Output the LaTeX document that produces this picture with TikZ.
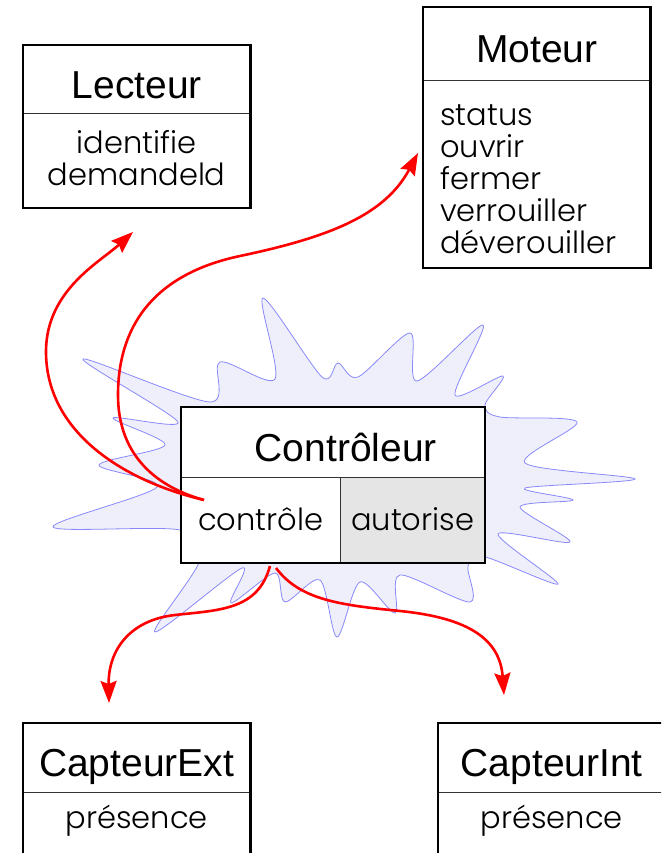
\documentclass[tikz,border=0pt]{standalone}
\usepackage{fontspec}
\setmainfont{Liberation Sans}
\newfontfamily\opsfont{Poppins}[UprightFont=* Light]
\usetikzlibrary{arrows.meta,positioning}
\definecolor{burstfill}{RGB}{239,239,252}
\definecolor{burstline}{RGB}{136,136,250}
\definecolor{cellgray}{RGB}{229,229,229}
\tikzset{head/.style = {rectangle, fill=white, inner sep=0pt, minimum width=227pt, text height=38pt, text depth=0pt, font=\fontsize{39}{39}\selectfont},
         ops/.style = {rectangle, fill=white, inner sep=0pt, align=center, font=\opsfont\fontsize{30.5}{32}\selectfont},
         frame/.style = {draw, line width=2.2pt},
         rule/.style = {draw=black!80, line width=1pt},
         link/.style = {draw=red, line width=2.6pt, -{Stealth[length=22pt, width=16pt, inset=3pt]}},
         burst/.style = {draw=burstline, fill=burstfill, line width=0.8pt},
}

\begin{document}
\begin{tikzpicture}[x=1pt, y=-1pt]
  \useasboundingbox (0,0) rectangle (661,853);
  \clip (0,0) rectangle (661,853);

  % spiky cloud behind the controller
  \draw[burst] plot[smooth cycle, tension=0.5] coordinates {
    (220,362) (275,379) (263,298) (322,377) (338,363) (358,377) (410,333)
    (417,381) (483,325) (455,395) (503,376) (485,405) (500,417) (577,422)
    (525,463) (635,479) (525,488) (573,500) (520,507) (570,542) (498,534)
    (558,584) (485,557) (468,566) (470,602) (400,575) (395,613) (360,582)
    (337,637) (320,580) (285,602) (275,573) (231,603) (242,568) (155,632)
    (200,560) (180,530) (53,527) (157,487) (99,465) (165,445) (113,418)
    (178,422) (83,359) (210,402)};

  % Lecteur
  \node[head, anchor=north west, minimum height=68pt] (lecteur) at (23,45) {Lecteur};
  \node[ops, below=0pt of lecteur, text width=227pt, text height=40pt, text depth=54pt] (lecteurOps) {identifie\\demandeld};
  \draw[rule] (lecteur.south west) -- (lecteur.south east);
  \draw[frame] (lecteur.north west) rectangle (lecteurOps.south east);

  % Moteur
  \node[head, anchor=north west, minimum height=73pt] (moteur) at (423,7) {Moteur};
  \node[ops, below=0pt of moteur, align=left, inner xsep=17pt, text width=193pt, text height=45pt, text depth=142pt] (moteurOps) {status\\ouvrir\\fermer\\verrouiller\\déverouiller};
  \draw[rule] (moteur.south west) -- (moteur.south east);
  \draw[frame] (moteur.north west) rectangle (moteurOps.south east);

  % Controleur
  \node[head, anchor=north west, minimum width=303pt, minimum height=70pt] (ctrl) at (181,407) {\hspace*{26pt}Contrôleur};
  \node[ops, anchor=north west, text width=159pt, text height=53pt, text depth=32pt] (ctrlUse) at (ctrl.south west) {contrôle};
  \node[ops, fill=cellgray, right=0pt of ctrlUse, text width=144pt, text height=53pt, text depth=32pt] (ctrlAuth) {autorise};
  \draw[rule] (ctrl.south west) -- (ctrl.south east);
  \draw[rule] (ctrlAuth.north west) -- (ctrlAuth.south west);
  \draw[frame] (ctrl.north west) rectangle (ctrlAuth.south east);

  % CapteurExt
  \node[head, anchor=north west, minimum height=69pt] (capExt) at (23,723) {CapteurExt};
  \node[ops, below=0pt of capExt, text width=227pt, text height=36pt, text depth=40pt] (capExtOps) {présence};
  \draw[rule] (capExt.south west) -- (capExt.south east);
  \draw[frame] (capExt.north west) rectangle (capExtOps.south east);

  % CapteurInt
  \node[head, anchor=north west, minimum height=69pt] (capInt) at (438,723) {CapteurInt};
  \node[ops, below=0pt of capInt, text width=227pt, text height=36pt, text depth=40pt] (capIntOps) {présence};
  \draw[rule] (capInt.south west) -- (capInt.south east);
  \draw[frame] (capInt.north west) rectangle (capIntOps.south east);

  % ends of the links
  \coordinate (fromUse) at (204,500);
  \coordinate (fromUseL) at (270,566);
  \coordinate (fromUseR) at (276,568);
  \coordinate (toLecteur) at (133,232);
  \coordinate (toMoteur) at (418,153);
  \coordinate (toExt) at (109,703);
  \coordinate (toInt) at (504,695);

  \draw[link] (fromUse) .. controls (120,480) and (45,430) .. (46,350) .. controls (47,290) and (100,262) .. (toLecteur);
  \draw[link] (fromUse) .. controls (150,485) and (118,450) .. (118,395) .. controls (118,330) and (150,275) .. (240,256) .. controls (330,237) and (385,215) .. (toMoteur);
  \draw[link] (fromUseL) .. controls (258,610) and (220,610) .. (175,615) .. controls (130,620) and (108,650) .. (toExt);
  \draw[link] (fromUseR) .. controls (300,600) and (340,605) .. (400,611) .. controls (470,618) and (500,640) .. (toInt);
\end{tikzpicture}
\end{document}
